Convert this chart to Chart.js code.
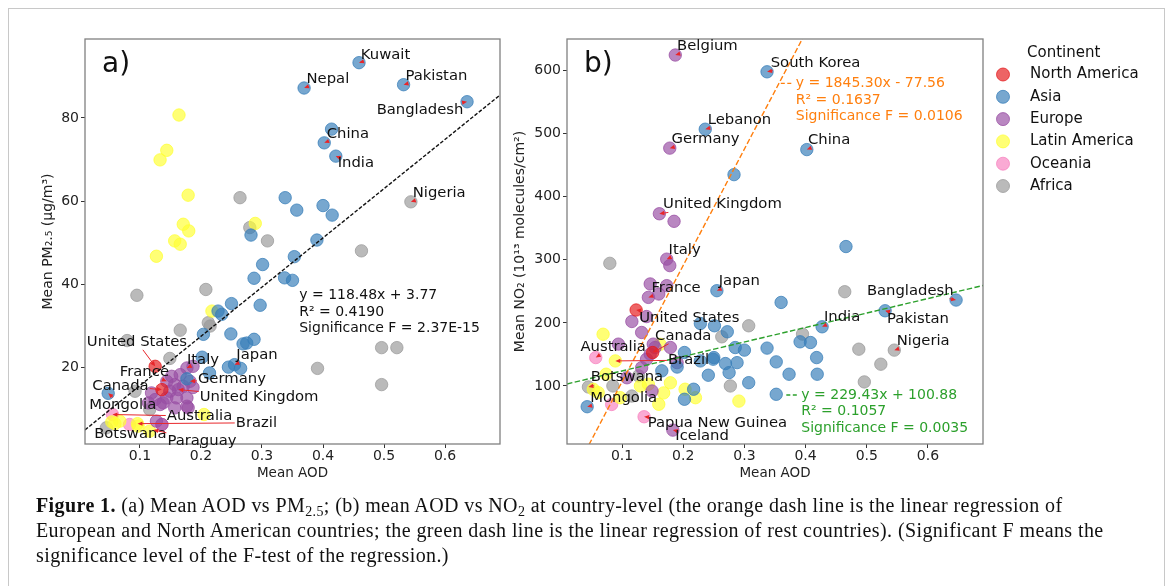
<!DOCTYPE html>
<html>
<head>
<meta charset="utf-8">
<script src="https://cdn.jsdelivr.net/npm/chart.js@4.4.1/dist/chart.umd.min.js"></script>
<style>
  html, body { margin: 0; padding: 0; background: #fff; width: 1166px; height: 586px; overflow: hidden; }
  #frame { position: absolute; left: 8px; top: 8px; width: 1155px; height: 620px; border: 1px solid #c8c8c8; }
  canvas { position: absolute; left: 0; top: 0; }
  #caption { position: absolute; left: 36px; top: 493px; white-space: nowrap;
    font-family: "Liberation Serif", serif; font-size: 20px; letter-spacing: 0.4px; line-height: 25px; color: #111; }
  #caption sub { font-size: 70%; vertical-align: -0.25em; line-height: 0; }
</style>
</head>
<body>
<div id="frame"></div>
<canvas id="pm" width="1166" height="586"></canvas>
<canvas id="no2" width="1166" height="586"></canvas>
<div id="caption"><b>Figure 1.</b> (a) Mean AOD vs PM<sub>2.5</sub>; (b) mean AOD vs NO<sub>2</sub> at country-level (the orange dash line is the linear regression of<br>European and North American countries; the green dash line is the linear regression of rest countries). (Significant F means the<br>significance level of the F-test of the regression.)</div>
<script>
// ---- categories / ticks ----
const continents = ['North America', 'Asia', 'Europe', 'Latin America', 'Oceania', 'Africa'];
const aodTicks = [0.1, 0.2, 0.3, 0.4, 0.5, 0.6];
const pmTicks = [20, 40, 60, 80];
const no2Ticks = [100, 200, 300, 400, 500, 600];

// ---- panel a: [mean AOD, mean PM2.5] ----
const pmNorthAmerica = [[0.125, 20.2], [0.136, 14.6]];
const pmAsia = [
  [0.459, 93.3], [0.369, 87.2], [0.532, 88.0], [0.636, 83.9], [0.414, 77.3], [0.402, 74.0], [0.421, 70.8],
  [0.338, 60.8], [0.357, 57.8], [0.400, 58.9], [0.415, 56.6], [0.390, 50.6], [0.282, 51.8], [0.353, 46.6],
  [0.301, 44.7], [0.287, 41.4], [0.337, 41.5], [0.350, 40.9], [0.250, 35.3], [0.297, 34.9], [0.228, 33.5],
  [0.234, 32.7], [0.204, 27.9], [0.249, 28.0], [0.269, 25.6], [0.275, 25.8], [0.287, 26.7], [0.202, 22.4],
  [0.214, 18.6], [0.245, 20.0], [0.255, 20.6], [0.265, 19.7], [0.048, 13.7], [0.177, 17.2]
];
const pmEurope = [
  [0.152, 17.8], [0.166, 18.2], [0.177, 19.8], [0.187, 20.2], [0.144, 16.6], [0.157, 15.8], [0.171, 15.4],
  [0.182, 16.6], [0.163, 14.6], [0.149, 14.2], [0.119, 13.8], [0.125, 12.2], [0.133, 11.0], [0.144, 12.6],
  [0.160, 12.6], [0.177, 12.6], [0.157, 10.2], [0.177, 10.6], [0.114, 11.4], [0.187, 15.1], [0.127, 7.0],
  [0.136, 6.2], [0.138, 11.4], [0.179, 10.2]
];
const pmLatinAmerica = [
  [0.164, 80.7], [0.144, 72.2], [0.133, 69.9], [0.179, 61.4], [0.171, 54.4], [0.180, 52.8], [0.157, 50.4],
  [0.166, 49.6], [0.127, 46.7], [0.289, 54.6], [0.218, 33.5], [0.205, 8.6], [0.059, 6.4], [0.067, 7.0],
  [0.054, 6.8], [0.096, 6.4], [0.116, 4.6], [0.097, 5.8]
];
const pmOceania = [[0.055, 8.6], [0.083, 6.2], [0.136, 6.2]];
const pmAfrica = [
  [0.264, 60.8], [0.280, 53.6], [0.309, 50.4], [0.463, 48.0], [0.544, 59.8], [0.095, 37.3], [0.208, 38.7],
  [0.212, 30.7], [0.215, 29.9], [0.166, 28.9], [0.079, 26.4], [0.149, 22.1], [0.391, 19.7], [0.496, 24.7],
  [0.521, 24.7], [0.496, 15.8], [0.092, 14.2], [0.116, 9.8], [0.045, 5.4]
];
const pmFitX = [0.01, 0.69];
const pmFitY = [4.9, 85.5];
const pmFitText = ['y = 118.48x + 3.77', 'R² = 0.4190', 'Significance F = 2.37E-15'];

// ---- panel b: [mean AOD, mean NO2] ----
const noNorthAmerica = [[0.123, 220.4], [0.150, 153.0]];
const noAsia = [
  [0.337, 598], [0.236, 507], [0.402, 474.7], [0.283, 435], [0.466, 321], [0.255, 251], [0.360, 232.4],
  [0.646, 236.2], [0.530, 219.2], [0.427, 193.8], [0.228, 199], [0.251, 195.4], [0.272, 185.9], [0.391, 170],
  [0.408, 168.9], [0.337, 160], [0.285, 160.9], [0.300, 156.8], [0.418, 145], [0.352, 138.2], [0.288, 137],
  [0.269, 135.5], [0.275, 121.2], [0.373, 118.6], [0.419, 118.6], [0.307, 105.2], [0.241, 117], [0.249, 142.4],
  [0.228, 139.7], [0.202, 153], [0.217, 94.8], [0.202, 78.9], [0.352, 86.8], [0.043, 67.1], [0.165, 124],
  [0.190, 130], [0.250, 145]
];
const noEurope = [
  [0.187, 624.6], [0.178, 477], [0.161, 373], [0.185, 361], [0.173, 301], [0.178, 290.8], [0.146, 261.7],
  [0.173, 259], [0.143, 240.4], [0.160, 245.8], [0.116, 202.2], [0.132, 184.8], [0.151, 166.3], [0.154, 160.9],
  [0.179, 161], [0.190, 137], [0.140, 142.4], [0.094, 166.3], [0.146, 150.4], [0.132, 129], [0.108, 113],
  [0.149, 92], [0.183, 30], [0.140, 210]
];
const noLatinAmerica = [
  [0.089, 139.7], [0.069, 182], [0.162, 166], [0.074, 118.6], [0.053, 94.7], [0.061, 89.4], [0.130, 100],
  [0.179, 105], [0.168, 89], [0.203, 94.8], [0.220, 81.4], [0.160, 71], [0.291, 76], [0.097, 81.4], [0.143, 102.7]
];
const noOceania = [[0.057, 145], [0.083, 70.7], [0.136, 51.2]];
const noAfrica = [
  [0.080, 294.4], [0.464, 249.4], [0.395, 182.2], [0.307, 195.4], [0.545, 156.8], [0.487, 158.3], [0.523, 134.5],
  [0.496, 106.4], [0.277, 100], [0.263, 177.9], [0.045, 98.4], [0.116, 84], [0.127, 116], [0.085, 100]
];
const euFitX = [0.04, 0.40];
const euFitY = [-4, 660];
const restFitX = [0.01, 0.69];
const restFitY = [103.2, 259.2];
const euFitText = ['y = 1845.30x - 77.56', 'R² = 0.1637', 'Significance F = 0.0106'];
const restFitText = ['y = 229.43x + 100.88', 'R² = 0.1057', 'Significance F = 0.0035'];

// ---- country labels: [name, point x, point y, text x, text y, align] ----
const pmLabels = [
  ['Kuwait', 0.459, 93.3, 0.462, 95.2], ['Nepal', 0.369, 87.2, 0.373, 89.3],
  ['Pakistan', 0.532, 88.0, 0.535, 90.1], ['Bangladesh', 0.636, 83.9, 0.630, 81.9, 'right'],
  ['China', 0.402, 74.0, 0.406, 76.2], ['India', 0.421, 70.8, 0.424, 69.0],
  ['Nigeria', 0.544, 59.8, 0.547, 62.0], ['United States', 0.125, 20.2, 0.013, 26.1],
  ['Italy', 0.177, 19.8, 0.177, 21.8], ['Japan', 0.255, 20.6, 0.258, 23.0],
  ['France', 0.144, 16.6, 0.067, 18.8], ['Germany', 0.182, 16.6, 0.195, 17.2],
  ['Canada', 0.136, 14.6, 0.022, 15.4], ['United Kingdom', 0.163, 14.6, 0.198, 12.8],
  ['Mongolia', 0.048, 13.7, 0.017, 10.8], ['Australia', 0.055, 8.6, 0.144, 8.2],
  ['Brazil', 0.096, 6.4, 0.257, 6.6], ['Botswana', 0.045, 5.4, 0.025, 3.9],
  ['Paraguay', 0.122, 4.9, 0.145, 2.3]
];
const noLabels = [
  ['Belgium', 0.187, 624.6, 0.190, 639], ['South Korea', 0.337, 598, 0.343, 612.4],
  ['Lebanon', 0.236, 507, 0.240, 522], ['Germany', 0.178, 477, 0.181, 491],
  ['China', 0.402, 474.7, 0.404, 489.5], ['United Kingdom', 0.161, 373, 0.167, 387.8],
  ['Italy', 0.173, 301, 0.176, 314.6], ['France', 0.143, 240.4, 0.148, 255.3],
  ['Japan', 0.255, 251, 0.258, 265.8], ['Bangladesh', 0.646, 236.2, 0.642, 251, 'right'],
  ['United States', 0.123, 220.4, 0.128, 207.6], ['India', 0.427, 193.8, 0.430, 208.6],
  ['Pakistan', 0.530, 219.2, 0.533, 206], ['Canada', 0.150, 153, 0.154, 179.5],
  ['Nigeria', 0.545, 156.8, 0.549, 170.4], ['Australia', 0.057, 145, 0.032, 162],
  ['Brazil', 0.089, 139.7, 0.175, 140.8], ['Botswana', 0.045, 98.4, 0.049, 113.2],
  ['Mongolia', 0.043, 67.1, 0.048, 81.4], ['Papua New Guinea', 0.136, 51.2, 0.142, 41.6],
  ['Iceland', 0.183, 30, 0.187, 20.5]
];

// ---- styles ----
const continentColors = ['#e41a1c', '#377eb8', '#984ea3', '#ffff33', '#f781bf', '#999999'];
const FONT = '"DejaVu Sans", sans-serif';
const ARROW = '#e8262a';

function rgba(hex, a) {
  const n = parseInt(hex.slice(1), 16);
  return `rgba(${n >> 16},${(n >> 8) & 255},${n & 255},${a})`;
}

function scatterSets(groups) {
  return groups.map((g, i) => ({
    label: continents[i],
    data: g.map(p => ({ x: p[0], y: p[1] })),
    backgroundColor: rgba(continentColors[i], 0.68),
    borderColor: rgba(continentColors[i], 0.75),
    borderWidth: 1,
    pointRadius: 6.2,
    order: 1
  }));
}

function fitSet(xs, ys, color, dash) {
  return {
    label: 'fit',
    data: xs.map((v, i) => ({ x: v, y: ys[i] })),
    showLine: true, borderColor: color, borderWidth: 1.4, borderDash: dash,
    pointRadius: 0, fill: false, order: 0
  };
}

// frame, panel tag, country labels with red arrows, regression text, legend
const notesPlugin = {
  id: 'notes',
  afterDatasetsDraw(chart, args, o) {
    const { ctx, chartArea: a, scales: { x, y } } = chart;
    ctx.save();
    ctx.strokeStyle = '#808080';
    ctx.lineWidth = 1.3;
    ctx.strokeRect(a.left, a.top, a.right - a.left, a.bottom - a.top);

    ctx.fillStyle = '#111';
    ctx.font = '28px ' + FONT;
    ctx.textAlign = 'left';
    ctx.textBaseline = 'alphabetic';
    ctx.fillText(o.tag, a.left + 17, a.top + 33);

    ctx.font = '14.8px ' + FONT;
    ctx.textBaseline = 'middle';
    o.labels.forEach(([name, px, py, tx, ty, align]) => {
      const P = { x: x.getPixelForValue(px), y: y.getPixelForValue(py) };
      const T = { x: x.getPixelForValue(tx), y: y.getPixelForValue(ty) };
      const w = ctx.measureText(name).width;
      const left = align === 'right' ? T.x - w : T.x;
      const cx = left + w / 2, cy = T.y;
      const dx = P.x - cx, dy = P.y - cy;
      const t = Math.min(dx ? (w / 2 + 1) / Math.abs(dx) : Infinity, dy ? 8 / Math.abs(dy) : Infinity);
      if (t < 1) {
        const sx = cx + dx * t, sy = cy + dy * t;
        const len = Math.hypot(P.x - sx, P.y - sy);
        const ux = (P.x - sx) / len, uy = (P.y - sy) / len;
        ctx.strokeStyle = ARROW;
        ctx.fillStyle = ARROW;
        ctx.lineWidth = 1;
        ctx.beginPath();
        ctx.moveTo(sx, sy);
        ctx.lineTo(P.x - ux * 3, P.y - uy * 3);
        ctx.stroke();
        ctx.beginPath();
        ctx.moveTo(P.x, P.y);
        ctx.lineTo(P.x - ux * 5 - uy * 2.2, P.y - uy * 5 + ux * 2.2);
        ctx.lineTo(P.x - ux * 5 + uy * 2.2, P.y - uy * 5 - ux * 2.2);
        ctx.closePath();
        ctx.fill();
      }
      ctx.fillStyle = '#111';
      ctx.fillText(name, left, T.y);
    });

    ctx.font = '14px ' + FONT;
    o.fits.forEach(f => {
      const fx = x.getPixelForValue(f.x), fy = y.getPixelForValue(f.y);
      ctx.fillStyle = f.color;
      f.lines.forEach((s, i) => ctx.fillText(s, fx, fy + i * 16.6));
      if (f.handle) {
        ctx.strokeStyle = f.color;
        ctx.lineWidth = 1.4;
        ctx.setLineDash([4, 2.5]);
        ctx.beginPath();
        ctx.moveTo(fx - 15, fy);
        ctx.lineTo(fx - 2, fy);
        ctx.stroke();
        ctx.setLineDash([]);
      }
    });

    if (o.legend) {
      const lx = a.right + 20;
      ctx.fillStyle = '#111';
      ctx.font = '15px ' + FONT;
      ctx.fillText('Continent', lx + 24, a.top + 14);
      chart.data.datasets.filter(d => d.label !== 'fit').forEach((d, i) => {
        const ly = a.top + 35.5 + i * 22.3;
        ctx.beginPath();
        ctx.arc(lx, ly, 6.5, 0, Math.PI * 2);
        ctx.fillStyle = d.backgroundColor;
        ctx.fill();
        ctx.strokeStyle = d.borderColor;
        ctx.lineWidth = 1;
        ctx.stroke();
        ctx.fillStyle = '#111';
        ctx.fillText(d.label, lx + 27, ly);
      });
    }
    ctx.restore();
  }
};

function axes(yMin, yMax, yTicks, yTitle, yTitlePad) {
  const tickFont = { family: FONT, size: 14 };
  const grid = { drawOnChartArea: false, drawTicks: true, tickLength: 4, color: '#333', tickWidth: 1 };
  return {
    x: {
      type: 'linear', min: 0.01, max: 0.69,
      afterBuildTicks: s => { s.ticks = aodTicks.map(v => ({ value: v })); },
      afterFit: s => { s.height = 38; },
      grid, border: { display: false },
      ticks: { font: tickFont, color: '#222', padding: 0, maxRotation: 0, callback: v => v.toFixed(1) },
      title: { display: true, text: 'Mean AOD', font: { family: FONT, size: 13.5 }, color: '#222', padding: { top: 0, bottom: 0 } }
    },
    y: {
      type: 'linear', min: yMin, max: yMax,
      afterBuildTicks: s => { s.ticks = yTicks.map(v => ({ value: v })); },
      afterFit: s => { s.width = s.chart.options.layout.axisWidth; },
      grid, border: { display: false },
      ticks: { font: tickFont, color: '#222', padding: 2, callback: v => String(v) },
      title: { display: true, text: yTitle, font: { family: FONT, size: 14 }, color: '#222', padding: { top: yTitlePad, bottom: 0 } }
    }
  };
}

const common = {
  responsive: false,
  animation: false,
  events: [],
  plugins: { legend: { display: false }, tooltip: { enabled: false } }
};

new Chart(document.getElementById('pm'), {
  type: 'scatter',
  data: {
    datasets: [fitSet(pmFitX, pmFitY, '#111', [3.7, 1.8])].concat(
      scatterSets([pmNorthAmerica, pmAsia, pmEurope, pmLatinAmerica, pmOceania, pmAfrica]))
  },
  options: Object.assign({}, common, {
    layout: { padding: { left: 0, top: 39, right: 666, bottom: 104 }, axisWidth: 85 },
    scales: axes(1.5, 99, pmTicks, 'Mean PM₂.₅ (μg/m³)', 39.6),
    plugins: Object.assign({}, common.plugins, {
      notes: {
        tag: 'a)', labels: pmLabels, legend: false,
        fits: [{ x: 0.361, y: 37.3, lines: pmFitText, color: '#111', handle: false }]
      }
    })
  }),
  plugins: [notesPlugin]
});

new Chart(document.getElementById('no2'), {
  type: 'scatter',
  data: {
    datasets: [
      fitSet(euFitX, euFitY, '#ff7f0e', [5.5, 2.4]),
      fitSet(restFitX, restFitY, '#2ca02c', [5.5, 2.4])
    ].concat(scatterSets([noNorthAmerica, noAsia, noEurope, noLatinAmerica, noOceania, noAfrica]))
  },
  options: Object.assign({}, common, {
    layout: { padding: { left: 505, top: 39, right: 183, bottom: 104 }, axisWidth: 62 },
    scales: axes(8, 650, no2Ticks, 'Mean NO₂ (10¹³ molecules/cm²)', 7.4),
    plugins: Object.assign({}, common.plugins, {
      notes: {
        tag: 'b)', labels: noLabels, legend: true,
        fits: [
          { x: 0.384, y: 579.6, lines: euFitText, color: '#ff7f0e', handle: true },
          { x: 0.393, y: 85.7, lines: restFitText, color: '#2ca02c', handle: true }
        ]
      }
    })
  }),
  plugins: [notesPlugin]
});
</script>
</body>
</html>
